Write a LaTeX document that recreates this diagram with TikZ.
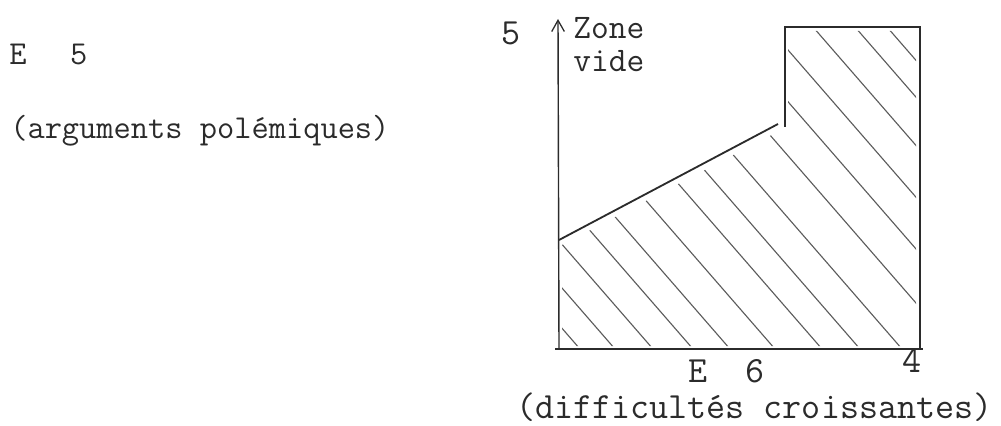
\documentclass[tikz,border=0pt]{standalone}
\usepackage{fontspec}
\usepackage{xcolor}
\definecolor{inkgray}{HTML}{2B2B2B}
\definecolor{hatchgray}{HTML}{5C5C5C}
\usetikzlibrary{arrows.meta}
\tikzset{
  typedl/.style={anchor=base west, inner sep=0pt, text=inkgray, font=\ttfamily\fontsize{23.8pt}{25pt}\selectfont},
  typedr/.style={anchor=base west, inner sep=0pt, text=inkgray, align=left, font=\ttfamily\fontsize{26.3pt}{22.8pt}\selectfont},
  frameline/.style={draw=inkgray, line width=1.3pt},
  axisline/.style={draw=inkgray, line width=1.0pt, -{Straight Barb[length=8pt, width=9pt, line width=0.9pt]}},
  hatchline/.style={draw=hatchgray, line width=0.8pt},
}

\begin{document}
\begin{tikzpicture}[x=0.025cm, y=-0.025cm]
  \useasboundingbox (0,0) rectangle (1001,426);
  % corners of the chart
  \coordinate (orig) at (559,349);
  \coordinate (ytip) at (558,19);
  \coordinate (xleft) at (555,349);
  \coordinate (xright) at (923,349);
  \coordinate (slantlo) at (559,240);
  \coordinate (slanthi) at (778,124);
  \coordinate (stepbot) at (785,127);
  \coordinate (steptop) at (785,27);
  \coordinate (topright) at (920,27);
  \coordinate (botright) at (920,349);

  % hatched zone
  \begin{scope}
    \clip (562,346) -- (562,245) -- (781,130) -- (788,130) -- (788,31) -- (916,31) -- (916,346) -- cycle;
    \foreach \b in {580,615,653,693,730,775,822,860,902,956,1003,1048,1093,1135,1167}
      \draw[hatchline] (\b,349) -- ++(-300,-345);
  \end{scope}

  \draw[frameline, line width=1.6pt] (xleft) -- (xright);
  \draw[axisline] (orig) -- (ytip);
  \draw[frameline] (slantlo) -- (slanthi);
  \draw[frameline] (stepbot) -- (steptop) -- (topright) -- (botright);

  \node[typedl] (e5) at (9,65) {E\hspace{1.3em}5};
  \node[typedl] (poles) at (10,139) {(arguments polémiques)};
  \node[typedr] (five) at (501,45) {5};
  \node[typedr, font=\ttfamily\fontsize{24.5pt}{23.5pt}\selectfont] (zone) at (573,72) {Zone\\vide};
  \node[typedr] (four) at (902,372) {4};
  \node[typedr] (e6) at (688,382) {E\ \ 6};
  \node[typedr] (diffs) at (516,418) {(difficultés croissantes)};
\end{tikzpicture}
\end{document}
